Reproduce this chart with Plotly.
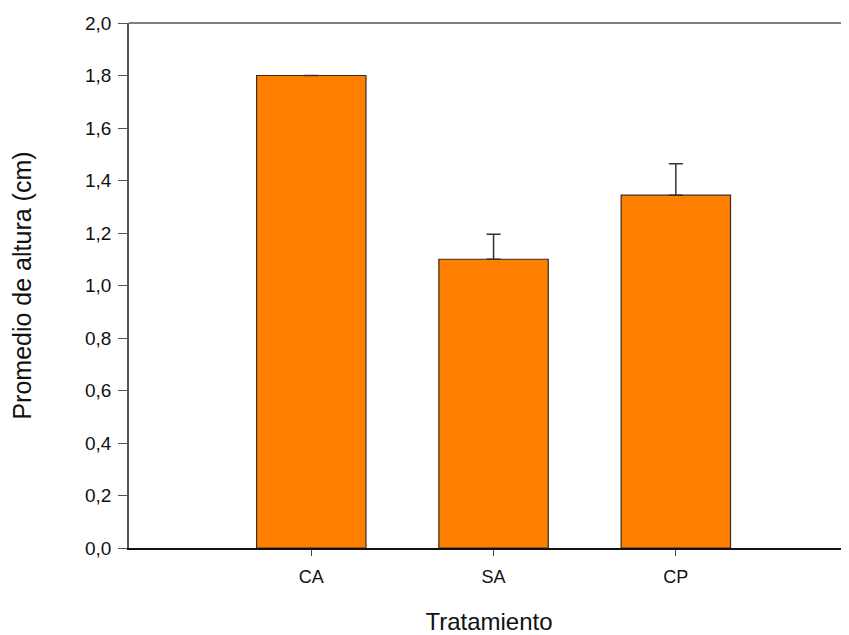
import plotly.graph_objects as go

categories = ["CA", "SA", "CP"]
means = [1.80, 1.10, 1.344]
errors = [0.0, 0.095, 0.12]
y_ticks = [0.0, 0.2, 0.4, 0.6, 0.8, 1.0, 1.2, 1.4, 1.6, 1.8, 2.0]
y_tick_labels = ["0,0", "0,2", "0,4", "0,6", "0,8", "1,0", "1,2", "1,4", "1,6", "1,8", "2,0"]

FONT = "Liberation Sans, Arial, sans-serif"

fig = go.Figure()
fig.add_trace(go.Bar(
    x=categories,
    y=means,
    width=0.6,
    marker=dict(color="#FF8000", line=dict(color="#3a2a20", width=1.2)),
    error_y=dict(type="data", array=errors, symmetric=False, arrayminus=[0, 0, 0],
                 color="#333333", thickness=1.5, width=7),
))

fig.update_layout(
    width=841, height=627,
    margin=dict(l=121, r=0, t=15, b=87),
    paper_bgcolor="white", plot_bgcolor="white",
    showlegend=False,
    font=dict(family=FONT, color="#111111"),
    xaxis=dict(
        range=[-1.0, 2.95],
        showline=True, linecolor="#111111", linewidth=1.5,
        ticks="outside", ticklen=6, tickcolor="#444444", tickwidth=1,
        tickfont=dict(size=18, family=FONT),
        ticklabelstandoff=6,
        showgrid=False, zeroline=False,
        title=dict(text="Tratamiento", font=dict(size=24, family=FONT), standoff=27),
    ),
    yaxis=dict(
        range=[0, 2.0],
        tickvals=y_ticks, ticktext=y_tick_labels,
        showline=True, linecolor="#555555", linewidth=1.5,
        ticks="outside", ticklen=9, tickcolor="#555555", tickwidth=1,
        tickfont=dict(size=19, family=FONT),
        ticklabelstandoff=3,
        showgrid=False, zeroline=False,
        title=dict(text="Promedio de altura (cm)", font=dict(size=25, family=FONT), standoff=47),
    ),
    shapes=[dict(type="line", xref="paper", yref="paper", x0=0, x1=1, y0=1, y1=1,
                 line=dict(color="#555555", width=1.5))],
)

fig.write_html("out.html")
